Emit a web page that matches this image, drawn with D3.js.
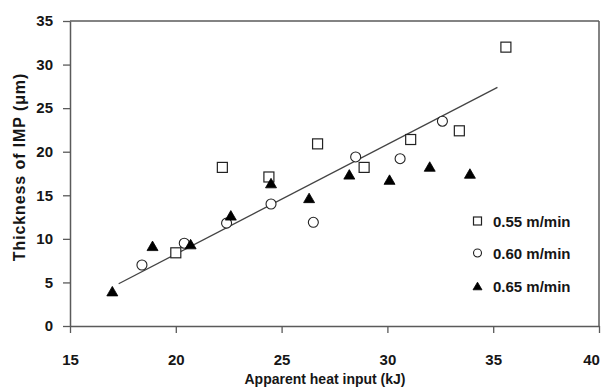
<!DOCTYPE html>
<html>
<head>
<meta charset="utf-8">
<script src="https://cdn.jsdelivr.net/npm/d3@7"></script>
<style>
  html, body { margin: 0; padding: 0; background: #fff; }
  svg { display: block; font-family: "Liberation Sans", Arial, sans-serif; }
</style>
</head>
<body>
<svg id="chart" width="606" height="387"></svg>
<script>
// Heat input (kJ) vs. IMP thickness (µm) for three travel speeds
const seriesNames = ["0.55 m/min", "0.60 m/min", "0.65 m/min"];
const seriesShapes = ["square", "circle", "triangle"];

const x055 = [20.0, 22.2, 24.4, 26.7, 28.9, 31.1, 33.4, 35.6];
const y055 = [8.4, 18.2, 17.1, 20.9, 18.2, 21.4, 22.4, 32.0];

const x060 = [18.4, 20.4, 22.4, 24.5, 26.5, 28.5, 30.6, 32.6];
const y060 = [7.0, 9.5, 11.8, 14.0, 11.9, 19.4, 19.2, 23.5];

const x065 = [17.0, 18.9, 20.7, 22.6, 24.5, 26.3, 28.2, 30.1, 32.0, 33.9];
const y065 = [4.0, 9.2, 9.4, 12.7, 16.4, 14.7, 17.4, 16.8, 18.3, 17.5];

// Linear fit drawn across the data range
const fitX = [17.3, 35.2];
const fitSlope = 1.259;
const fitIntercept = -16.93;

const xTicks = [15, 20, 25, 30, 35, 40];
const yTicks = [0, 5, 10, 15, 20, 25, 30, 35];

const svg = d3.select("#chart");
const plotLeft = 70, plotRight = 599, plotTop = 21, plotBottom = 326;

const x = d3.scaleLinear().domain([15, 40]).range([plotLeft, plotRight]);
const y = d3.scaleLinear().domain([0, 35]).range([plotBottom, plotTop]);

const axisColor = "#5a5a5a";
const textColor = "#161616";

// Frame on top and right
svg.append("line").attr("x1", plotLeft).attr("x2", plotRight).attr("y1", plotTop).attr("y2", plotTop)
  .attr("stroke", axisColor).attr("stroke-width", 1.5);
svg.append("line").attr("x1", plotRight).attr("x2", plotRight).attr("y1", plotTop).attr("y2", plotBottom)
  .attr("stroke", axisColor).attr("stroke-width", 1.5);

// Axes
const xAxis = svg.append("g").attr("transform", `translate(0,${plotBottom})`)
  .call(d3.axisBottom(x).tickValues(xTicks).tickSize(7).tickPadding(21).tickSizeOuter(0));
const yAxis = svg.append("g").attr("transform", `translate(${plotLeft},0)`)
  .call(d3.axisLeft(y).tickValues(yTicks).tickSize(7).tickPadding(10).tickSizeOuter(0));

[xAxis, yAxis].forEach(g => {
  g.select(".domain").attr("stroke", axisColor).attr("stroke-width", 1.5);
  g.selectAll(".tick line").attr("stroke", axisColor).attr("stroke-width", 1.3);
  g.selectAll(".tick text").attr("fill", textColor)
    .style("font-size", "15px").style("font-weight", "bold")
    .style("font-family", "'Liberation Sans', Arial, sans-serif");
});

// keep the last x label inside the frame edge
xAxis.selectAll(".tick text").filter(d => d === 40).attr("dx", -8);

// Axis titles
svg.append("text")
  .attr("x", 325).attr("y", 384)
  .attr("text-anchor", "middle")
  .attr("fill", textColor)
  .style("font-size", "14px").style("font-weight", "bold")
  .text("Apparent heat input (kJ)");

svg.append("text")
  .attr("transform", "translate(25,167) rotate(-90)")
  .attr("text-anchor", "middle")
  .attr("fill", textColor)
  .style("font-size", "16px").style("font-weight", "bold")
  .style("letter-spacing", "0.9px")
  .text("Thickness of IMP (μm)");

// Trend line
const fitLine = d3.line().x(d => x(d)).y(d => y(fitSlope * d + fitIntercept));
svg.append("path")
  .attr("d", fitLine(fitX))
  .attr("fill", "none")
  .attr("stroke", "#444")
  .attr("stroke-width", 1.3);

// Marker drawing
function drawMarker(g, shape, cx, cy, s) {
  if (shape === "square") {
    g.append("rect").attr("x", cx - s / 2).attr("y", cy - s / 2)
      .attr("width", s).attr("height", s)
      .attr("fill", "#fff").attr("stroke", "#222").attr("stroke-width", 1.2);
  } else if (shape === "circle") {
    g.append("circle").attr("cx", cx).attr("cy", cy).attr("r", s / 2)
      .attr("fill", "#fff").attr("stroke", "#222").attr("stroke-width", 1.1);
  } else {
    const h = s * 0.95;
    g.append("path")
      .attr("d", `M${cx},${cy - h / 2}L${cx + s / 2 + 0.5},${cy + h / 2}L${cx - s / 2 - 0.5},${cy + h / 2}Z`)
      .attr("fill", "#000").attr("stroke", "#000").attr("stroke-width", 0.8);
  }
}

const series = [
  { xs: x055, ys: y055 },
  { xs: x060, ys: y060 },
  { xs: x065, ys: y065 }
];

const pts = svg.append("g");
series.forEach((s, i) => {
  s.xs.forEach((xv, j) => drawMarker(pts, seriesShapes[i], x(xv), y(s.ys[j]), 10));
});

// Legend
const legend = svg.append("g");
const legendY = [221, 253, 286];
seriesNames.forEach((name, i) => {
  drawMarker(legend, seriesShapes[i], 477.5, legendY[i], 8);
  legend.append("text")
    .attr("x", 493).attr("y", legendY[i] + 5.5)
    .attr("fill", textColor)
    .style("font-size", "15px").style("font-weight", "bold")
    .text(name);
});
</script>
</body>
</html>
